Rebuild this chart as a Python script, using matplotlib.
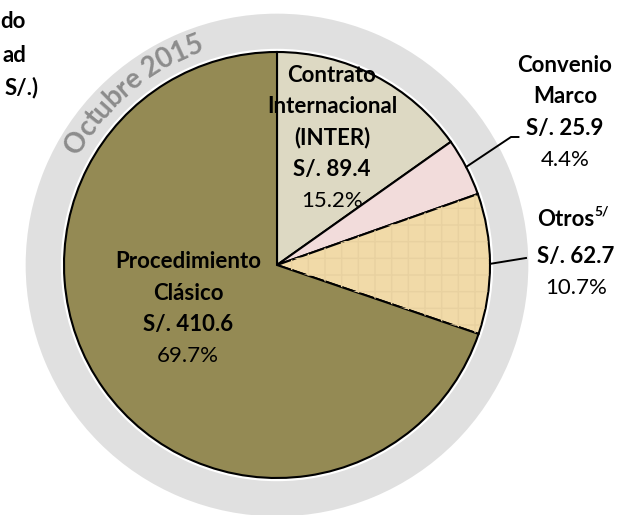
import numpy as np
import matplotlib.pyplot as plt
from matplotlib.patches import Wedge
from matplotlib.font_manager import FontProperties
from matplotlib.textpath import text_to_path

# ---- data ----
categories = ["Contrato Internacional (INTER)", "Convenio Marco", "Otros",
              "Procedimiento Clásico"]
label_lines = [["Contrato", "Internacional", "(INTER)"],
               ["Convenio", "Marco"],
               ["Otros"],
               ["Procedimiento", "Clásico"]]
amounts = [89.4, 25.9, 62.7, 410.6]          # millones de S/.
pct_labels = ["15.2%", "4.4%", "10.7%", "69.7%"]
colors = ["#DDD9C3", "#F2DCDB", "#F1DAA8", "#948A54"]
ring_text = "Octubre 2015"
title_bits = ["do", "ad", "S/.)"]

FONT = "Lato"
PX = 213.0          # pixels per data unit (pie radius)
CX, CY = 277, 265   # pie centre in pixels (from top-left)


def px(x, y):
    """pixel position (from top-left) -> data coords"""
    return (x - CX) / PX, (CY - y) / PX


fig = plt.figure(figsize=(6.22, 5.15), dpi=100)
ax = fig.add_axes([0, 0, 1, 1])

# grey ring behind the pie
ax.add_patch(Wedge((0, 0), 1.18, 0, 360, width=0.165, facecolor="#E0E0E0",
                   edgecolor="none", zorder=0))

wedges, _ = ax.pie(amounts, colors=colors, startangle=90, counterclock=False,
                   radius=1.0,
                   wedgeprops=dict(edgecolor="black", linewidth=1.5))
for w in wedges:
    w.set_zorder(2)

# light texture on "Otros"
w = wedges[2]
ax.add_patch(Wedge((0, 0), 0.995, w.theta1, w.theta2, facecolor="none",
                   edgecolor="#E8D1A0", hatch="+", linewidth=0, zorder=3))

# ---- labels ----
step = 31.5
fs = 16


def block(cx, top, lines, amount, pct):
    y = top
    for ln in lines + [f"S/. {amount:.1f}"]:
        ax.text(*px(cx, y), ln, ha="center", va="center", fontsize=fs,
                fontweight="bold", family=FONT, zorder=5)
        y += step
    ax.text(*px(cx, y), pct, ha="center", va="center", fontsize=fs,
            family=FONT, zorder=5)


block(332, 75, label_lines[0], amounts[0], pct_labels[0])
block(565, 65, label_lines[1], amounts[1], pct_labels[1])
block(576, 256, [], amounts[2], pct_labels[2])
block(188, 262, label_lines[3], amounts[3], pct_labels[3])

# "Otros" with superscript
ax.text(*px(566, 220), label_lines[2][0], ha="center", va="center",
        fontsize=fs, fontweight="bold", family=FONT, zorder=5)
ax.text(*px(594, 212), "5/", ha="left", va="center", fontsize=10,
        fontweight="bold", family=FONT, zorder=5)

# leader lines
for i, (tx, ty), tail in [(1, (511, 137), 0.035), (2, (526, 258), 0.0)]:
    w = wedges[i]
    mid = np.deg2rad((w.theta1 + w.theta2) / 2)
    x0, y0 = np.cos(mid), np.sin(mid)
    x1, y1 = px(tx, ty)
    ax.plot([x0, x1, x1 + tail], [y0, y1, y1], color="black", lw=1.4,
            zorder=4)

# curved "Octubre 2015" on the ring
ring_fs = 20
prop = FontProperties(family=FONT, weight="bold", size=ring_fs)


def tw(s):
    return text_to_path.get_text_width_height_descent(s, prop, ismath=False)[0] * 100 / 72


r_txt = 1.10
r_px = r_txt * PX
total = tw(ring_text)
mid_ang = 130.0
start = np.deg2rad(mid_ang) + (total / 2) / r_px
ref = tw("I")
for i, ch in enumerate(ring_text):
    if ch == " ":
        continue
    off = 0 if i == 0 else tw(ring_text[:i] + "I") - ref
    c = off + tw(ch) / 2
    a = start - c / r_px
    ax.text(r_txt * np.cos(a), r_txt * np.sin(a), ch, rotation=np.rad2deg(a) - 90,
            rotation_mode="anchor", ha="center", va="center", fontsize=ring_fs,
            fontweight="bold", family=FONT, color="#8C8C8C", zorder=1)

# cropped title at top-left
for txt, (x, y) in zip(title_bits, [(26, 22), (26, 55), (39, 88)]):
    ax.text(*px(x, y), txt, ha="right", va="center", fontsize=fs,
            fontweight="bold", family=FONT)

x0, _ = px(0, 0)
x1, _ = px(622, 0)
_, y0 = px(0, 515)
_, y1 = px(0, 0)
ax.set_xlim(x0, x1)
ax.set_ylim(y0, y1)
ax.set_aspect("auto")
ax.set_axis_off()

fig.savefig("out.png", dpi=100)
